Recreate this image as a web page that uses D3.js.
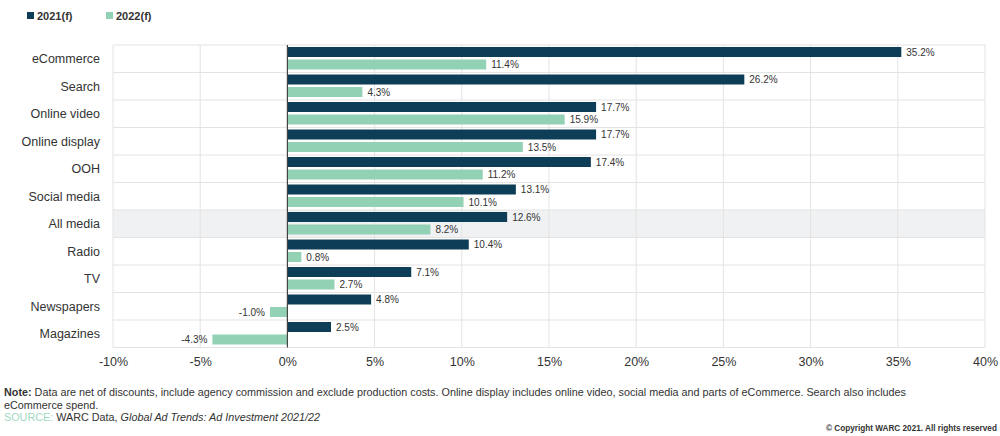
<!DOCTYPE html>
<html>
<head>
<meta charset="utf-8">
<script src="https://cdn.jsdelivr.net/npm/d3@7"></script>
<style>
  body { margin: 0; background: #fff; }
  svg { font-family: "Liberation Sans", Arial, sans-serif; }
</style>
</head>
<body>
<svg id="chart" width="1000" height="436"></svg>
<script>
var categories = ['eCommerce', 'Search', 'Online video', 'Online display', 'OOH', 'Social media',
	'All media', 'Radio', 'TV', 'Newspapers', 'Magazines'];
var values2021 = [35.2, 26.2, 17.7, 17.7, 17.4, 13.1, 12.6, 10.4, 7.1, 4.8, 2.5];
var values2022 = [11.4, 4.3, 15.9, 13.5, 11.2, 10.1, 8.2, 0.8, 2.7, -1.0, -4.3];
var seriesNames = ['2021(f)', '2022(f)'];
var xTicks = [-10, -5, 0, 5, 10, 15, 20, 25, 30, 35, 40];

var dark = '#0e3e57';
var light = '#93d1b5';

var svg = d3.select('#chart');
var plotLeft = 113, plotRight = 985, plotTop = 45, plotBottom = 347.5;

var x = d3.scaleLinear().domain([-10, 40]).range([plotLeft, plotRight]);
var y = d3.scaleBand().domain(categories).range([plotTop, plotBottom]);
var sub = d3.scaleBand().domain(seriesNames).range([2, y.bandwidth() - 3]).paddingInner(0.2);

var g = svg.append('g');

// highlight row
g.append('rect')
	.attr('x', plotLeft)
	.attr('y', y('All media'))
	.attr('width', plotRight - plotLeft)
	.attr('height', y.bandwidth())
	.style('fill', '#f0f1f2');

// grid
g.selectAll('.vgrid')
	.data(xTicks)
	.enter().append('line')
	.attr('x1', d => x(d))
	.attr('x2', d => x(d))
	.attr('y1', plotTop)
	.attr('y2', plotBottom)
	.attr('stroke', '#e3e3e3')
	.attr('stroke-width', 1);

g.selectAll('.hgrid')
	.data(d3.range(categories.length + 1))
	.enter().append('line')
	.attr('x1', plotLeft)
	.attr('x2', plotRight)
	.attr('y1', d => plotTop + d * y.step())
	.attr('y2', d => plotTop + d * y.step())
	.attr('stroke', '#e3e3e3')
	.attr('stroke-width', 1);

// bars
var series = [values2021, values2022];
var colors = [dark, light];

series.forEach(function(vals, si) {
	var rows = categories.map(function(c, i) { return { cat: c, v: vals[i] }; });

	g.selectAll('.bar' + si)
		.data(rows)
		.enter().append('rect')
		.attr('x', d => x(Math.min(0, d.v)))
		.attr('y', d => y(d.cat) + sub(seriesNames[si]))
		.attr('width', d => Math.abs(x(d.v) - x(0)))
		.attr('height', sub.bandwidth())
		.style('fill', colors[si]);

	g.selectAll('.lab' + si)
		.data(rows)
		.enter().append('text')
		.attr('x', d => d.v >= 0 ? x(d.v) + 5 : x(d.v) - 5)
		.attr('y', d => y(d.cat) + sub(seriesNames[si]) + sub.bandwidth() / 2 + 3.5)
		.attr('text-anchor', d => d.v >= 0 ? 'start' : 'end')
		.style('font-size', '10px')
		.style('fill', '#333')
		.text(d => d.v.toFixed(1) + '%');
});

// zero line
g.append('line')
	.attr('x1', x(0))
	.attr('x2', x(0))
	.attr('y1', plotTop)
	.attr('y2', plotBottom)
	.attr('stroke', '#444')
	.attr('stroke-width', 1.2);

// category labels
g.selectAll('.cat')
	.data(categories)
	.enter().append('text')
	.attr('x', 100)
	.attr('y', d => y(d) + y.bandwidth() / 2 + 4.5)
	.attr('text-anchor', 'end')
	.style('font-size', '12.5px')
	.style('fill', '#333')
	.text(d => d);

// x axis labels
var xAxis = d3.axisBottom(x)
	.tickValues(xTicks)
	.tickFormat(d => d + '%')
	.tickSize(0)
	.tickPadding(10);

var ax = svg.append('g')
	.attr('transform', 'translate(0,' + plotBottom + ')')
	.call(xAxis);
ax.select('.domain').remove();
ax.selectAll('text')
	.style('font-size', '12.5px')
	.style('font-family', '"Liberation Sans", Arial, sans-serif')
	.style('fill', '#333');

// legend
var legend = svg.append('g');
seriesNames.forEach(function(name, i) {
	var lx = [27, 106][i];
	legend.append('rect')
		.attr('x', lx)
		.attr('y', 12)
		.attr('width', 7)
		.attr('height', 7)
		.style('fill', colors[i]);
	legend.append('text')
		.attr('x', lx + 10)
		.attr('y', 19.5)
		.style('font-size', '11px')
		.style('font-weight', 'bold')
		.style('fill', '#333')
		.text(name);
});

// footer
var foot = svg.append('g').style('font-size', '10.8px').style('fill', '#333');
var n1 = foot.append('text').attr('x', 4).attr('y', 396);
n1.append('tspan').style('font-weight', 'bold').text('Note:');
n1.append('tspan').text(' Data are net of discounts, include agency commission and exclude production costs. Online display includes online video, social media and parts of eCommerce. Search also includes');
foot.append('text').attr('x', 4).attr('y', 408.5).text('eCommerce  spend.');
var s = foot.append('text').attr('x', 4).attr('y', 421);
s.append('tspan').style('fill', '#9fd8bf').text('SOURCE:');
s.append('tspan').text(' WARC Data, ');
s.append('tspan').style('font-style', 'italic').text('Global Ad Trends: Ad Investment 2021/22');

svg.append('text')
	.attr('x', 826)
	.attr('y', 431)
	.style('font-size', '8.2px')
	.style('font-weight', 'bold')
	.style('fill', '#333')
	.text('\u00A9 Copyright WARC 2021. All rights reserved');
</script>
</body>
</html>
